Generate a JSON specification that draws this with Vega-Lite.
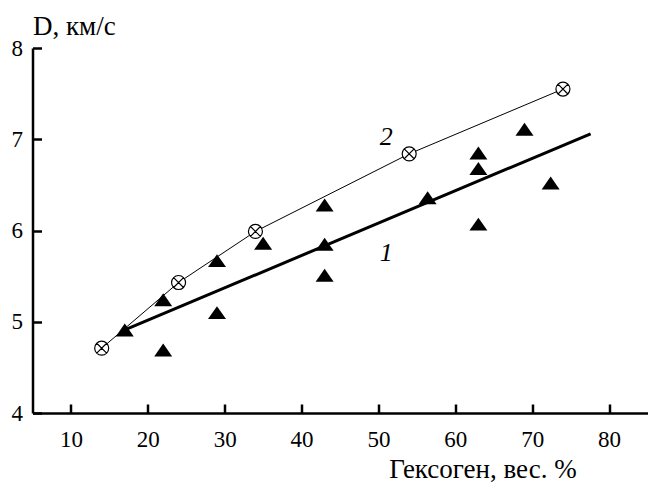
{
  "$schema": "https://vega.github.io/schema/vega-lite/v6.json",
  "autosize": "none",
  "width": 615,
  "height": 365,
  "padding": {"left": 32.5, "top": 48, "right": 0, "bottom": 71},
  "background": "white",
  "config": {
    "view": {"stroke": null},
    "font": "Liberation Serif",
    "axis": {"grid": false, "domainColor": "black", "tickColor": "black", "labelColor": "black", "titleColor": "black", "labelFont": "Liberation Serif", "titleFont": "Liberation Serif", "titleFontWeight": "normal"}
  },
  "datasets": {
    "series2": [
      {"x": 14, "y": 4.71},
      {"x": 24, "y": 5.43},
      {"x": 34, "y": 5.99},
      {"x": 54, "y": 6.84},
      {"x": 74, "y": 7.55}
    ],
    "fit1": [
      {"x": 17, "y": 4.91},
      {"x": 77.6, "y": 7.06}
    ],
    "series1": [
      {"x": 17, "y": 4.91},
      {"x": 22, "y": 5.24},
      {"x": 22, "y": 4.69},
      {"x": 29, "y": 5.67},
      {"x": 29, "y": 5.1},
      {"x": 35, "y": 5.86},
      {"x": 43, "y": 6.28},
      {"x": 43, "y": 5.85},
      {"x": 43, "y": 5.51},
      {"x": 56.4, "y": 6.36},
      {"x": 63, "y": 6.85},
      {"x": 63, "y": 6.68},
      {"x": 63, "y": 6.07},
      {"x": 69, "y": 7.11},
      {"x": 72.4, "y": 6.52}
    ],
    "labels": [
      {"x": 51, "y": 7.03, "label": "2"},
      {"x": 51, "y": 5.75, "label": "1"}
    ]
  },
  "encoding": {
    "x": {
      "field": "x", "type": "quantitative",
      "scale": {"domain": [5, 85], "nice": false, "zero": false},
      "axis": {
        "values": [10, 20, 30, 40, 50, 60, 70, 80],
        "tickSize": -9, "tickWidth": 2.5, "domainWidth": 2.5,
        "labelFontSize": 23, "labelPadding": 24,
        "title": "Гексоген, вес. %", "titleFontSize": 27,
        "titleX": 450, "titleY": 64, "titleAlign": "center", "titleBaseline": "alphabetic"
      }
    },
    "y": {
      "field": "y", "type": "quantitative",
      "scale": {"domain": [4, 8], "nice": false, "zero": false},
      "axis": {
        "values": [4, 5, 6, 7, 8],
        "tickSize": -9, "tickWidth": 2.5, "domainWidth": 2.5,
        "labelFontSize": 23, "labelPadding": 19,
        "title": "D, км/с", "titleFontSize": 27, "titleAngle": 0,
        "titleX": 0, "titleY": -14, "titleAlign": "left", "titleBaseline": "alphabetic"
      }
    }
  },
  "layer": [
    {
      "data": {"name": "series2"},
      "mark": {"type": "line", "color": "black", "strokeWidth": 1}
    },
    {
      "data": {"name": "fit1"},
      "mark": {"type": "line", "color": "black", "strokeWidth": 3}
    },
    {
      "data": {"name": "series1"},
      "mark": {"type": "point", "shape": "M0,-0.72L1,0.72L-1,0.72Z", "size": 324, "filled": true, "fill": "black", "stroke": null, "opacity": 1}
    },
    {
      "data": {"name": "series2"},
      "mark": {"type": "point", "shape": "M-1,0A1,1 0 1,0 1,0A1,1 0 1,0 -1,0ZM-0.707,-0.707L0.707,0.707M-0.707,0.707L0.707,-0.707", "size": 196, "fill": "white", "fillOpacity": 1, "stroke": "black", "strokeWidth": 1.2, "opacity": 1}
    },
    {
      "data": {"name": "labels"},
      "mark": {"type": "text", "font": "Liberation Serif", "fontStyle": "italic", "fontSize": 26, "color": "black", "align": "center", "baseline": "middle"},
      "encoding": {"text": {"field": "label", "type": "nominal"}}
    }
  ]
}
